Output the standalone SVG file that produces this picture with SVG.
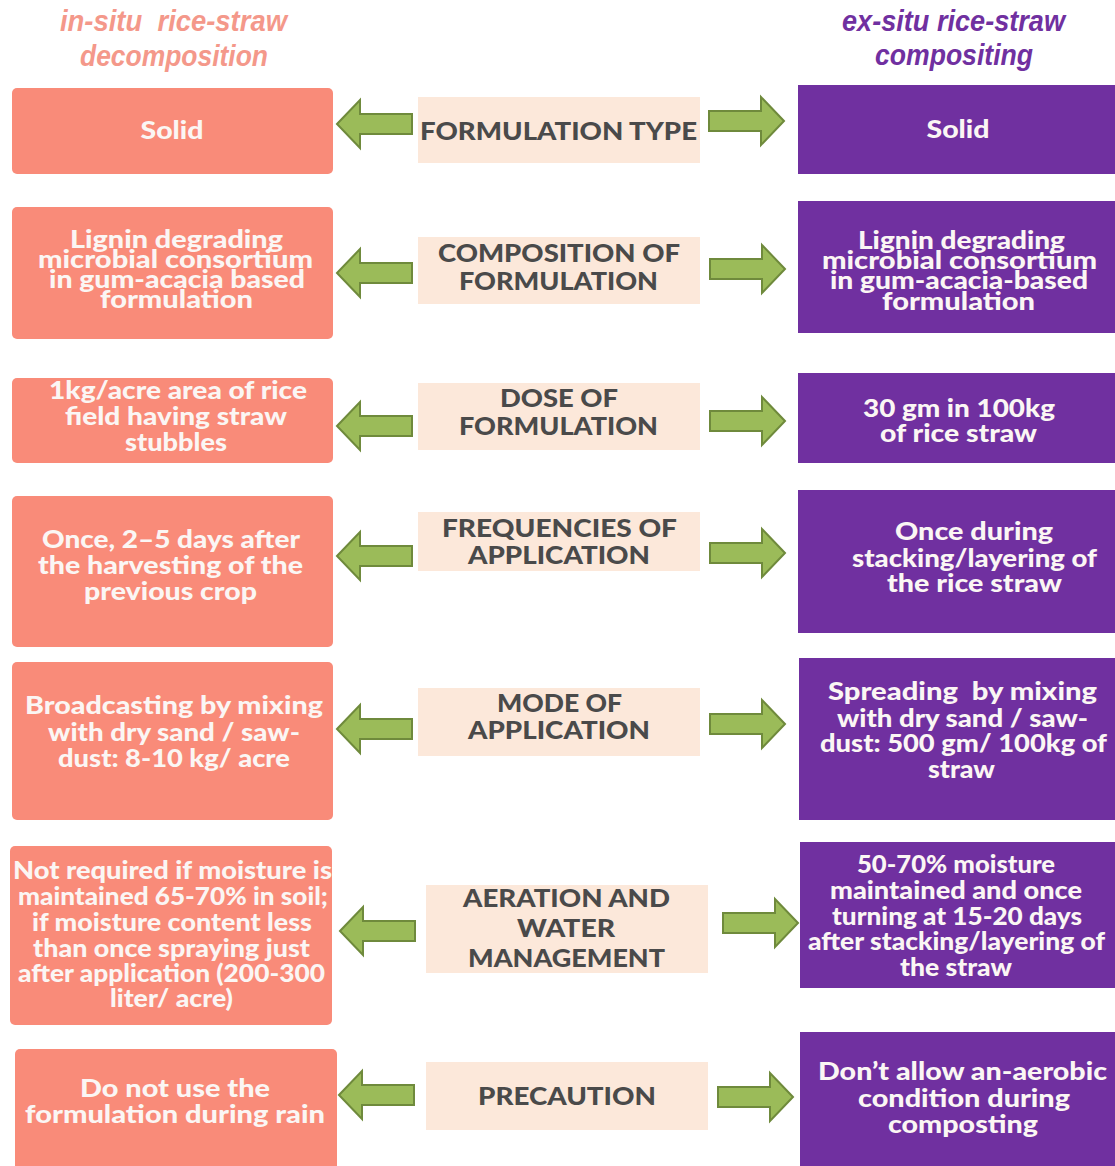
<svg xmlns="http://www.w3.org/2000/svg" xmlns:xlink="http://www.w3.org/1999/xlink" width="1115" height="1166" viewBox="0 0 1115 1166">
<style>
.hl{font-family:"Liberation Sans",Arial,sans-serif;font-weight:700;font-style:italic;font-size:29px;fill:#F4988A;text-anchor:middle}
.hr{font-family:"Liberation Sans",Arial,sans-serif;font-weight:700;font-style:italic;font-size:29px;fill:#7030A0;text-anchor:middle}
.sal{fill:#F98B79}
.pur{fill:#7030A0}
.mid{fill:#FCE8DA}
.bt{font-family:Lato,"Open Sans",sans-serif;font-weight:900;font-size:24px;fill:#FBF6F4;text-anchor:middle}
.mt{font-family:Lato,"Open Sans",sans-serif;font-weight:900;font-size:24px;fill:#4A4A4A;text-anchor:middle}
.arr{fill:#9BBB59;stroke:#6F8A3C;stroke-width:2;stroke-linejoin:miter}
</style>
<defs>
<path id="la" d="M0,0 L23,-24 L23,-10 L75,-10 L75,10 L23,10 L23,24 Z"/>
<path id="ra" d="M0,0 L-23,-24 L-23,-10 L-75,-10 L-75,10 L-23,10 L-23,24 Z"/>
</defs>
<rect width="1115" height="1166" fill="#FFFFFF"/>

<g id="header-left">
<text class="hl" x="173.5" y="31" textLength="227" lengthAdjust="spacingAndGlyphs" xml:space="preserve">in-situ  rice-straw</text>
<text class="hl" x="174" y="66" textLength="188" lengthAdjust="spacingAndGlyphs">decomposition</text>
</g>
<g id="header-right">
<text class="hr" x="953.5" y="31" textLength="223" lengthAdjust="spacingAndGlyphs">ex-situ rice-straw</text>
<text class="hr" x="954" y="65" textLength="158" lengthAdjust="spacingAndGlyphs">compositing</text>
</g>

<!-- Row 1 -->
<g id="l1"><rect class="sal" x="12" y="88" width="321" height="86" rx="5"/>
<text class="bt" x="172" y="139" textLength="63" lengthAdjust="spacingAndGlyphs">Solid</text></g>
<g id="m1"><rect class="mid" x="418" y="97" width="282" height="66"/>
<text class="mt" x="558.5" y="140" textLength="277" lengthAdjust="spacingAndGlyphs">FORMULATION TYPE</text></g>
<g id="r1"><rect class="pur" x="798" y="85" width="317" height="89"/>
<text class="bt" x="958" y="138" textLength="63" lengthAdjust="spacingAndGlyphs">Solid</text></g>

<!-- Row 2 -->
<g id="l2"><rect class="sal" x="12" y="207" width="321" height="132" rx="5"/>
<text class="bt" x="176.5" y="248" textLength="213" lengthAdjust="spacingAndGlyphs">Lignin degrading</text>
<text class="bt" x="175.5" y="268" textLength="275" lengthAdjust="spacingAndGlyphs">microbial consortium</text>
<text class="bt" x="177" y="288" textLength="256" lengthAdjust="spacingAndGlyphs">in gum-acacia based</text>
<text class="bt" x="176.5" y="308" textLength="153" lengthAdjust="spacingAndGlyphs">formulation</text></g>
<g id="m2"><rect class="mid" x="418" y="237" width="282" height="67"/>
<text class="mt" x="559" y="262" textLength="242" lengthAdjust="spacingAndGlyphs">COMPOSITION OF</text>
<text class="mt" x="558.5" y="290" textLength="199" lengthAdjust="spacingAndGlyphs">FORMULATION</text></g>
<g id="r2"><rect class="pur" x="798" y="201" width="317" height="132"/>
<text class="bt" x="961.5" y="249" textLength="207" lengthAdjust="spacingAndGlyphs">Lignin degrading</text>
<text class="bt" x="959.5" y="269" textLength="275" lengthAdjust="spacingAndGlyphs">microbial consortium</text>
<text class="bt" x="959" y="289" textLength="258" lengthAdjust="spacingAndGlyphs">in gum-acacia-based</text>
<text class="bt" x="958.5" y="310" textLength="153" lengthAdjust="spacingAndGlyphs">formulation</text></g>

<!-- Row 3 -->
<g id="l3"><rect class="sal" x="12" y="378" width="321" height="85" rx="5"/>
<text class="bt" x="178" y="399" textLength="258" lengthAdjust="spacingAndGlyphs">1kg/acre area of rice</text>
<text class="bt" x="176" y="425" textLength="222" lengthAdjust="spacingAndGlyphs">field having straw</text>
<text class="bt" x="176" y="451" textLength="102" lengthAdjust="spacingAndGlyphs">stubbles</text></g>
<g id="m3"><rect class="mid" x="418" y="383" width="282" height="67"/>
<text class="mt" x="559" y="407" textLength="118" lengthAdjust="spacingAndGlyphs">DOSE OF</text>
<text class="mt" x="558.5" y="435" textLength="199" lengthAdjust="spacingAndGlyphs">FORMULATION</text></g>
<g id="r3"><rect class="pur" x="798" y="373" width="317" height="90"/>
<text class="bt" x="959" y="417" textLength="192" lengthAdjust="spacingAndGlyphs">30 gm in 100kg</text>
<text class="bt" x="958.5" y="442" textLength="157" lengthAdjust="spacingAndGlyphs">of rice straw</text></g>

<!-- Row 4 -->
<g id="l4"><rect class="sal" x="12" y="496" width="321" height="151" rx="5"/>
<text class="bt" x="171" y="548" textLength="258" lengthAdjust="spacingAndGlyphs">Once, 2–5 days after</text>
<text class="bt" x="170.5" y="574" textLength="265" lengthAdjust="spacingAndGlyphs">the harvesting of the</text>
<text class="bt" x="170.5" y="600" textLength="173" lengthAdjust="spacingAndGlyphs">previous crop</text></g>
<g id="m4"><rect class="mid" x="418" y="512" width="282" height="59"/>
<text class="mt" x="559.5" y="537" textLength="235" lengthAdjust="spacingAndGlyphs">FREQUENCIES OF</text>
<text class="mt" x="559" y="564" textLength="182" lengthAdjust="spacingAndGlyphs">APPLICATION</text></g>
<g id="r4"><rect class="pur" x="798" y="490" width="317" height="143"/>
<text class="bt" x="974" y="540" textLength="158" lengthAdjust="spacingAndGlyphs">Once during</text>
<text class="bt" x="974.5" y="567" textLength="245" lengthAdjust="spacingAndGlyphs">stacking/layering of</text>
<text class="bt" x="974.5" y="592" textLength="175" lengthAdjust="spacingAndGlyphs">the rice straw</text></g>

<!-- Row 5 -->
<g id="l5"><rect class="sal" x="12" y="662" width="321" height="158" rx="5"/>
<text class="bt" x="174" y="714" textLength="298" lengthAdjust="spacingAndGlyphs">Broadcasting by mixing</text>
<text class="bt" x="174" y="741" textLength="252" lengthAdjust="spacingAndGlyphs">with dry sand / saw-</text>
<text class="bt" x="174" y="767" textLength="232" lengthAdjust="spacingAndGlyphs">dust: 8-10 kg/ acre</text></g>
<g id="m5"><rect class="mid" x="418" y="688" width="282" height="68"/>
<text class="mt" x="559.5" y="712" textLength="125" lengthAdjust="spacingAndGlyphs">MODE OF</text>
<text class="mt" x="559" y="739" textLength="182" lengthAdjust="spacingAndGlyphs">APPLICATION</text></g>
<g id="r5"><rect class="pur" x="799" y="658" width="316" height="162"/>
<text class="bt" x="962.5" y="700" textLength="269" lengthAdjust="spacingAndGlyphs" xml:space="preserve">Spreading  by mixing</text>
<text class="bt" x="962.5" y="727" textLength="251" lengthAdjust="spacingAndGlyphs">with dry sand / saw-</text>
<text class="bt" x="963.5" y="752" textLength="287" lengthAdjust="spacingAndGlyphs">dust: 500 gm/ 100kg of</text>
<text class="bt" x="961.5" y="778" textLength="67" lengthAdjust="spacingAndGlyphs">straw</text></g>

<!-- Row 6 -->
<g id="l6"><rect class="sal" x="10" y="846" width="322" height="179" rx="5"/>
<text class="bt" x="172.5" y="879" textLength="319" lengthAdjust="spacingAndGlyphs">Not required if moisture is</text>
<text class="bt" x="173" y="905" textLength="310" lengthAdjust="spacingAndGlyphs">maintained 65-70% in soil;</text>
<text class="bt" x="172" y="931" textLength="280" lengthAdjust="spacingAndGlyphs">if moisture content less</text>
<text class="bt" x="171.5" y="957" textLength="277" lengthAdjust="spacingAndGlyphs">than once spraying just</text>
<text class="bt" x="171.5" y="982" textLength="307" lengthAdjust="spacingAndGlyphs">after application (200-300</text>
<text class="bt" x="171.5" y="1007" textLength="123" lengthAdjust="spacingAndGlyphs">liter/ acre)</text></g>
<g id="m6"><rect class="mid" x="426" y="885" width="282" height="88"/>
<text class="mt" x="566.5" y="907" textLength="207" lengthAdjust="spacingAndGlyphs">AERATION AND</text>
<text class="mt" x="566" y="937" textLength="98" lengthAdjust="spacingAndGlyphs">WATER</text>
<text class="mt" x="566.5" y="967" textLength="197" lengthAdjust="spacingAndGlyphs">MANAGEMENT</text></g>
<g id="r6"><rect class="pur" x="800" y="842" width="315" height="146"/>
<text class="bt" x="956" y="873" textLength="198" lengthAdjust="spacingAndGlyphs">50-70% moisture</text>
<text class="bt" x="956" y="899" textLength="252" lengthAdjust="spacingAndGlyphs">maintained and once</text>
<text class="bt" x="957" y="925" textLength="250" lengthAdjust="spacingAndGlyphs">turning at 15-20 days</text>
<text class="bt" x="956.5" y="950" textLength="297" lengthAdjust="spacingAndGlyphs">after stacking/layering of</text>
<text class="bt" x="956" y="976" textLength="112" lengthAdjust="spacingAndGlyphs">the straw</text></g>

<!-- Row 7 -->
<g id="l7"><rect class="sal" x="15" y="1049" width="322" height="125" rx="5"/>
<text class="bt" x="175" y="1097" textLength="190" lengthAdjust="spacingAndGlyphs">Do not use the</text>
<text class="bt" x="175" y="1123" textLength="300" lengthAdjust="spacingAndGlyphs">formulation during rain</text></g>
<g id="m7"><rect class="mid" x="426" y="1062" width="282" height="68"/>
<text class="mt" x="567" y="1105" textLength="178" lengthAdjust="spacingAndGlyphs">PRECAUTION</text></g>
<g id="r7"><rect class="pur" x="800" y="1032" width="315" height="140"/>
<text class="bt" x="962.5" y="1080" textLength="289" lengthAdjust="spacingAndGlyphs">Don’t allow an-aerobic</text>
<text class="bt" x="964" y="1107" textLength="212" lengthAdjust="spacingAndGlyphs">condition during</text>
<text class="bt" x="963" y="1133" textLength="150" lengthAdjust="spacingAndGlyphs">composting</text></g>

<g id="connectors" class="arr">
<use href="#la" xlink:href="#la" transform="translate(337,124)"/>
<use href="#ra" xlink:href="#ra" transform="translate(784,121)"/>
<use href="#la" xlink:href="#la" transform="translate(337,273)"/>
<use href="#ra" xlink:href="#ra" transform="translate(785,269)"/>
<use href="#la" xlink:href="#la" transform="translate(337,426)"/>
<use href="#ra" xlink:href="#ra" transform="translate(785,421)"/>
<use href="#la" xlink:href="#la" transform="translate(337,556)"/>
<use href="#ra" xlink:href="#ra" transform="translate(785,553)"/>
<use href="#la" xlink:href="#la" transform="translate(337,729)"/>
<use href="#ra" xlink:href="#ra" transform="translate(785,724)"/>
<use href="#la" xlink:href="#la" transform="translate(340,931)"/>
<use href="#ra" xlink:href="#ra" transform="translate(798,923)"/>
<use href="#la" xlink:href="#la" transform="translate(339,1095)"/>
<use href="#ra" xlink:href="#ra" transform="translate(793,1097)"/>
</g>
</svg>
